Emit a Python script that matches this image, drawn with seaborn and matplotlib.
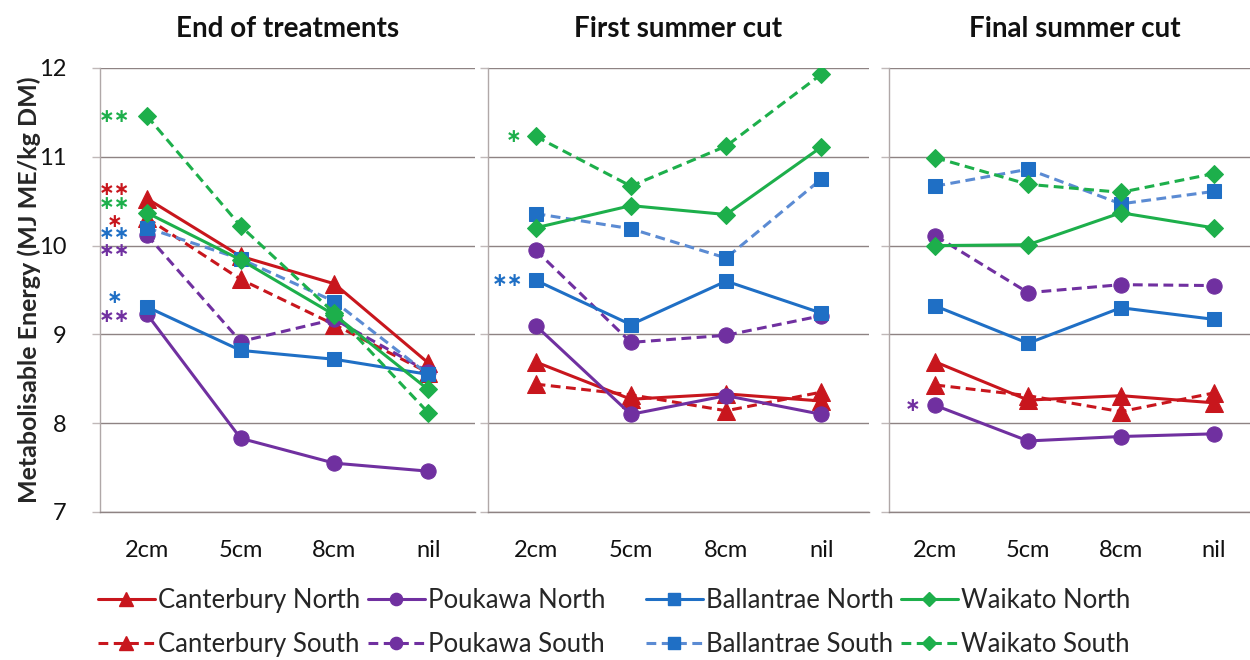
import matplotlib
matplotlib.use("Agg")
import matplotlib.pyplot as plt
from matplotlib.lines import Line2D
import seaborn as sns

sns.set_theme(style="white")
plt.rcParams["font.family"] = ["Lato", "DejaVu Sans"]

cuts = ["2cm", "5cm", "8cm", "nil"]
panels = ["End of treatments", "First summer cut", "Final summer cut"]

# Metabolisable energy per site and aspect, one list per panel
canterbury_north = [[10.53, 9.88, 9.57, 8.68], [8.69, 8.27, 8.33, 8.25], [8.69, 8.26, 8.31, 8.23]]
canterbury_south = [[10.31, 9.62, 9.11, 8.57], [8.44, 8.32, 8.14, 8.35], [8.43, 8.31, 8.13, 8.34]]
poukawa_north = [[9.23, 7.83, 7.55, 7.46], [9.10, 8.10, 8.31, 8.10], [8.20, 7.80, 7.85, 7.88]]
poukawa_south = [[10.12, 8.92, 9.17, 8.58], [9.95, 8.91, 8.99, 9.21], [10.11, 9.47, 9.56, 9.55]]
ballantrae_north = [[9.31, 8.82, 8.72, 8.55], [9.61, 9.11, 9.60, 9.24], [9.32, 8.90, 9.30, 9.17]]
ballantrae_south = [[10.20, 9.85, 9.37, 8.55], [10.36, 10.19, 9.86, 10.75], [10.67, 10.86, 10.47, 10.61]]
waikato_north = [[10.37, 9.84, 9.22, 8.38], [10.20, 10.45, 10.35, 11.11], [10.00, 10.01, 10.37, 10.20]]
waikato_south = [[11.46, 10.22, 9.24, 8.12], [11.23, 10.67, 11.12, 11.93], [10.99, 10.69, 10.60, 10.81]]

RED = "#C8161D"
PURPLE = "#7030A0"
BLUE = "#1F6FC5"
BLUE_LIGHT = "#5B8BD3"
GREEN = "#1DAF4B"
DASH = (0, (3.2, 1.8))

# name, values, line colour, marker colour, marker, size, linestyle
series = [
    ("Canterbury North", canterbury_north, RED, RED, "^", 12.5, "-"),
    ("Canterbury South", canterbury_south, RED, RED, "^", 12.5, DASH),
    ("Poukawa North", poukawa_north, PURPLE, PURPLE, "o", 11, "-"),
    ("Poukawa South", poukawa_south, PURPLE, PURPLE, "o", 11, DASH),
    ("Ballantrae North", ballantrae_north, BLUE, BLUE, "s", 10, "-"),
    ("Ballantrae South", ballantrae_south, BLUE_LIGHT, BLUE, "s", 10, DASH),
    ("Waikato North", waikato_north, GREEN, GREEN, "D", 9, "-"),
    ("Waikato South", waikato_south, GREEN, GREEN, "D", 9, DASH),
]

# significance marks: panel, text, colour, x offset from first cut, y value
stars = [
    (0, "∗∗", GREEN, -0.35, 11.45),
    (0, "∗∗", RED, -0.35, 10.63),
    (0, "∗∗", GREEN, -0.35, 10.47),
    (0, "∗", RED, -0.34, 10.27),
    (0, "∗∗", BLUE, -0.35, 10.14),
    (0, "∗∗", PURPLE, -0.35, 9.95),
    (0, "∗", BLUE, -0.34, 9.41),
    (0, "∗∗", PURPLE, -0.35, 9.20),
    (1, "∗", GREEN, -0.23, 11.23),
    (1, "∗∗", BLUE, -0.29, 9.61),
    (2, "∗", PURPLE, -0.25, 8.20),
]

W, H = 1250, 660
fig = plt.figure(figsize=(W / 100, H / 100), dpi=100)
boxes = [(100, 375), (488, 381), (889, 371)]
top, bottom = 68, 512
axes = []
for (x0, w) in boxes:
    ax = fig.add_axes([x0 / W, 1 - bottom / H, w / W, (bottom - top) / H])
    axes.append(ax)

GRID = "#8E8383"
for i, ax in enumerate(axes):
    for name, vals, lc, mc, mk, ms, ls in series:
        sns.lineplot(x=cuts, y=vals[i], ax=ax, color=lc, linestyle=ls, linewidth=2.2,
                     marker=mk, markersize=ms, markerfacecolor=mc, markeredgecolor=mc,
                     sort=False, legend=False)
    ax.set_xlim(-0.5, 3.5)
    ax.set_ylim(7, 12)
    ax.set_yticks([7, 8, 9, 10, 11, 12])
    ax.grid(axis="y", color=GRID, linewidth=1.0)
    ax.set_axisbelow(True)
    ax.set_xlabel("")
    ax.set_ylabel("")
    ax.set_xticks(range(4))
    ax.set_xticklabels(cuts, fontsize=17)
    ax.set_xticks([-0.5, 0.5, 1.5, 2.5, 3.5], minor=True)
    ax.tick_params(axis="x", which="major", length=0, pad=20, labelcolor="#111111")
    ax.tick_params(axis="x", which="minor", length=7, width=1, color=GRID, direction="out")
    for s in ["top", "right"]:
        ax.spines[s].set_visible(False)
    ax.spines["bottom"].set_color(GRID)
    ax.spines["bottom"].set_linewidth(1.0)
    ax.spines["left"].set_color("#B0A8A8")
    ax.spines["left"].set_linewidth(1.0)
    ax.tick_params(axis="y", which="major", left=True, length=6, width=1, color="#C0B8B8",
                   direction="out")
    if i == 0:
        ax.tick_params(axis="y", labelsize=17, labelcolor="#111111", pad=18)
        ax.set_ylabel("Metabolisable Energy (MJ ME/kg DM)", fontsize=18,
                      fontweight="bold", labelpad=-1)
    else:
        ax.tick_params(axis="y", labelleft=False)
    ax.set_title(panels[i], fontsize=20, fontweight="bold", pad=22, color="#111111")
    ax.patch.set_alpha(0)

for p, txt, col, dx, y in stars:
    axes[p].text(dx, y, txt, color=col, fontsize=13.5, ha="center", va="center",
                 family=["DejaVu Sans"], fontweight="bold")

# legend: one block per site, north above south
site_x = [98, 368, 646, 901]
for k, x0 in enumerate(site_x):
    handles = []
    for name, vals, lc, mc, mk, ms, ls in series[2 * k:2 * k + 2]:
        handles.append(Line2D([0], [0], color=lc, linestyle=ls, linewidth=2.2, marker=mk,
                              markersize=ms * 0.8, markerfacecolor=mc, markeredgecolor=mc,
                              label=name))
    fig.legend(handles=handles, loc="upper left", bbox_to_anchor=(x0 / W, 1 - 588 / H),
               frameon=False, fontsize=18.5, handlelength=2.2, handletextpad=0.15,
               labelspacing=0.75, borderpad=0, borderaxespad=0)

fig.savefig("out.png", dpi=100, facecolor="white")
